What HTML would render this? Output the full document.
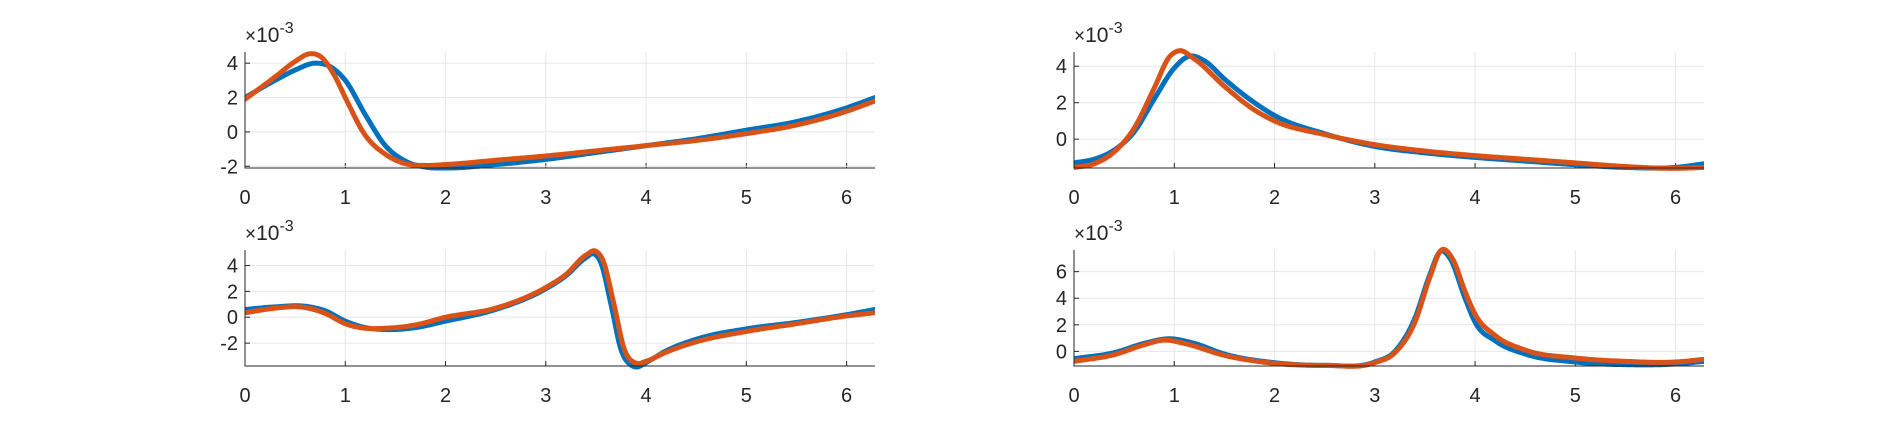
<!DOCTYPE html>
<html><head><meta charset="utf-8"><style>
html,body{margin:0;padding:0;background:#fff;}
svg text{font-family:"Liberation Sans",Arial,sans-serif;fill:#262626;}
</style></head><body>
<svg id="fig" width="1883" height="420" xmlns="http://www.w3.org/2000/svg"></svg>
<script>
const xTicks=[0,1,2,3,4,5,6];
const tlX=[0,0.3,0.5,0.7,0.85,1.0,1.2,1.4,1.6,1.8,2.0,2.5,3,3.5,4,4.5,5,5.5,6,6.283];
const tlBlue=[2.0,3,3.6,4.0,3.8,3.0,1.0,-0.8,-1.7,-2.05,-2.1,-1.9,-1.6,-1.2,-0.8,-0.4,0.1,0.6,1.4,2.0];
const tlOX=[0,0.3,0.5,0.65,0.75,0.9,1.0,1.2,1.4,1.6,1.8,2,2.5,3,3.5,4,4.5,5,5.5,6,6.283];
const tlOrange=[1.9,3.2,4.1,4.55,4.4,3.2,2.0,-0.2,-1.3,-1.85,-1.95,-1.9,-1.65,-1.4,-1.1,-0.8,-0.5,-0.1,0.4,1.2,1.8];
const blX=[0,0.3,0.6,0.8,1.0,1.2,1.4,1.7,2,2.5,3,3.2,3.4,3.48,3.55,3.65,3.75,3.85,3.9,4.0,4.2,4.5,5,5.5,6,6.283];
const blBlue=[0.6,0.8,0.85,0.5,-0.3,-0.8,-0.95,-0.8,-0.3,0.6,2.2,3.2,4.6,4.9,4.2,1.0,-2.5,-3.7,-3.85,-3.5,-2.6,-1.7,-0.9,-0.4,0.2,0.6];
const blOX=[0,0.3,0.55,0.8,1.0,1.2,1.4,1.7,2,2.5,3,3.2,3.4,3.5,3.57,3.68,3.78,3.9,4.0,4.2,4.5,5,5.5,6,6.283];
const blOrange=[0.35,0.7,0.8,0.3,-0.5,-0.85,-0.85,-0.6,0.0,0.7,2.3,3.3,4.8,5.1,4.4,1.0,-2.4,-3.55,-3.4,-2.7,-1.9,-1.1,-0.5,0.1,0.35];
const trX=[0,0.2,0.4,0.6,0.8,1.0,1.15,1.3,1.5,1.8,2,2.5,3,3.5,4,4.5,5,5.5,6,6.283];
const trBlue=[-1.3,-1.1,-0.6,0.4,2.2,3.9,4.55,4.3,3.3,2.0,1.3,0.3,-0.4,-0.75,-1.0,-1.2,-1.4,-1.55,-1.55,-1.35];
const trOX=[0,0.2,0.4,0.6,0.8,0.95,1.05,1.2,1.5,1.8,2,2.5,3,3.5,4,4.5,5,5.5,6,6.283];
const trOrange=[-1.55,-1.35,-0.7,0.6,2.8,4.5,4.85,4.4,2.9,1.6,1.0,0.25,-0.3,-0.65,-0.9,-1.1,-1.3,-1.5,-1.6,-1.55];
const brX=[0,0.4,0.7,0.95,1.2,1.5,2,2.5,3,3.2,3.4,3.55,3.65,3.75,3.9,4.0,4.2,4.5,5,5.5,6,6.283];
const brBlue=[-0.55,-0.1,0.6,0.95,0.6,-0.2,-0.85,-1.05,-0.8,0,2.5,5.8,7.5,7.0,4.0,2.2,0.8,-0.2,-0.8,-1.0,-0.95,-0.75];
const brOX=[0,0.4,0.7,0.9,1.1,1.5,2,2.5,3,3.2,3.4,3.55,3.66,3.78,3.9,4.0,4.2,4.5,5,5.5,6,6.283];
const brOrange=[-0.75,-0.25,0.5,0.85,0.6,-0.3,-0.9,-1.05,-0.85,-0.1,2.2,5.6,7.6,6.9,4.5,2.8,1.2,0.1,-0.5,-0.75,-0.8,-0.6];

const NS="http://www.w3.org/2000/svg";
const svg=document.getElementById('fig');
function mk(tag,attrs,parent){const e=document.createElementNS(NS,tag);for(const k in attrs)e.setAttribute(k,attrs[k]);(parent||svg).appendChild(e);return e;}
// cubic Hermite interpolation with three-point tangents, sampled densely
function interp(xs,ys){
  const n=xs.length,h=[],d=[],m=new Array(n);
  for(let i=0;i<n-1;i++){h[i]=xs[i+1]-xs[i];d[i]=(ys[i+1]-ys[i])/h[i];}
  m[0]=d[0];m[n-1]=d[n-2];
  for(let i=1;i<n-1;i++){m[i]=(d[i-1]*h[i]+d[i]*h[i-1])/(h[i-1]+h[i]);}
  const out=[];
  for(let i=0;i<n-1;i++){
    const N=20;
    for(let k=(i==0?0:1);k<=N;k++){
      const t=k/N,t2=t*t,t3=t2*t;
      const y=(2*t3-3*t2+1)*ys[i]+(t3-2*t2+t)*h[i]*m[i]+(-2*t3+3*t2)*ys[i+1]+(t3-t2)*h[i]*m[i+1];
      out.push([xs[i]+t*h[i],y]);
    }
  }
  return out;
}
function panel(name,L,R,T,Bt,ymin,ymax,yTicks,series){
  const g=mk('g',{});
  
  
  const sx=v=>L+(v-0)/(2*Math.PI)*(R-L), sy=v=>Bt-(v-ymin)/(ymax-ymin)*(Bt-T);
  xTicks.forEach(t=>{const x=sx(t);
    const gl=mk('line',{x1:x,x2:x,y1:T,y2:Bt,stroke:'#e6e6e6','stroke-width':1},g);
    
    mk('line',{x1:x,x2:x,y1:Bt,y2:Bt-5,stroke:'#262626','stroke-width':1},g);
    const tx=mk('text',{x:x,y:Bt+36,'text-anchor':'middle','font-size':20},g);tx.textContent=t;
    });
  yTicks.forEach(t=>{const y=sy(t);
    const gl=mk('line',{x1:L,x2:R,y1:y,y2:y,stroke:'#e6e6e6','stroke-width':1},g);
    
    mk('line',{x1:L,x2:L+5,y1:y,y2:y,stroke:'#262626','stroke-width':1},g);
    const tx=mk('text',{x:L-7,y:y+7,'text-anchor':'end','font-size':20},g);tx.textContent=t;
    });
  const clipId='c'+name;const cp=mk('clipPath',{id:clipId},g);mk('rect',{x:L,y:T-5,width:R-L,height:Bt-T+10},cp);
  series.forEach(s=>{const pts=interp(s.x,s.y).map(p=>[sx(p[0]),sy(p[1])]);
    const d='M'+pts.map(p=>p[0].toFixed(2)+','+p[1].toFixed(2)).join(' L');
    const p=mk('path',{d:d,fill:'none',stroke:s.c,'stroke-width':5,'stroke-linejoin':'round','stroke-linecap':'round','clip-path':`url(#${clipId})`},g);
    });
  const ax=mk('path',{d:`M${L},${T} L${L},${Bt} L${R},${Bt}`,fill:'none',stroke:'#262626','stroke-width':1},g);
  
  const ex=mk('text',{x:L,y:T-10,'font-size':21},g);
  
  ex.innerHTML='<tspan font-size="19">×</tspan>10<tspan font-size="16" dy="-9">-3</tspan>';
}
const B='#0072BD',O='#D95319';
panel('top-left-plot',245,875,52,168,-2.1,4.65,[-2,0,2,4],[{x:tlX,y:tlBlue,c:B,n:'blue-series'},{x:tlOX,y:tlOrange,c:O,n:'orange-series'}]);
panel('bottom-left-plot',245,875,250,366,-3.77,5.2,[-2,0,2,4],[{x:blX,y:blBlue,c:B,n:'blue-series'},{x:blOX,y:blOrange,c:O,n:'orange-series'}]);
panel('top-right-plot',1074,1704,52,168,-1.58,4.78,[0,2,4],[{x:trX,y:trBlue,c:B,n:'blue-series'},{x:trOX,y:trOrange,c:O,n:'orange-series'}]);
panel('bottom-right-plot',1074,1704,250,366,-1.1,7.63,[0,2,4,6],[{x:brX,y:brBlue,c:B,n:'blue-series'},{x:brOX,y:brOrange,c:O,n:'orange-series'}]);
</script>
</body></html>
